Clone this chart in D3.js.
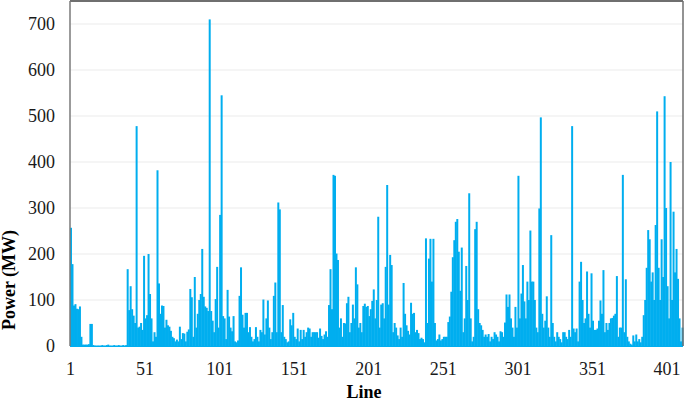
<!DOCTYPE html>
<html><head><meta charset="utf-8">
<script src="https://cdn.jsdelivr.net/npm/d3@7"></script>
<style>body{margin:0;background:#fff}svg{display:block}</style>
</head><body><svg id="c" width="685" height="401"></svg>
<script>
const power = [
257,178,88,91,81,80,86,20,3,3,
3,3,4,48,48,2,1,1,1,1,
1,2,1,1,2,3,1,1,1,2,
1,1,2,1,1,2,1,2,167,78,
130,80,66,50,478,40,42,50,35,196,
60,67,200,113,60,10,30,20,382,136,
70,88,87,40,57,45,42,33,20,17,
10,14,10,42,15,28,27,10,31,36,
124,106,20,150,40,70,100,113,211,107,
86,83,76,710,76,55,30,102,172,40,
285,545,65,60,15,122,64,40,32,65,
10,8,12,109,171,68,40,72,72,30,
41,20,10,15,41,20,10,35,30,101,
25,60,99,40,15,30,109,138,30,312,
297,30,89,20,15,8,10,58,45,72,
20,15,38,10,35,15,35,20,30,40,
38,20,30,30,30,30,18,38,22,15,
25,32,20,89,167,80,372,370,201,187,
40,60,20,50,49,93,107,30,50,90,
60,171,134,40,50,30,87,92,85,87,
65,80,98,123,60,100,281,40,90,93,
60,172,350,90,198,176,30,50,40,23,
15,40,20,137,70,45,33,25,94,70,
72,30,35,28,15,18,15,8,234,50,
190,233,140,233,50,12,15,25,12,15,
20,20,20,52,64,118,193,230,270,276,
205,120,214,30,60,174,100,332,60,10,
20,254,270,80,50,45,35,20,25,20,
26,10,20,15,30,25,20,10,32,30,
20,51,112,85,112,60,40,20,85,40,
370,60,114,176,97,60,140,100,251,140,
140,100,40,30,299,497,70,40,55,108,
40,20,241,50,20,10,30,20,15,8,
30,30,20,15,35,20,478,38,30,38,
10,140,183,100,50,60,162,70,40,158,
55,35,35,38,55,99,70,165,30,50,
35,50,60,61,66,70,152,20,40,40,
372,30,145,20,10,5,3,23,10,25,
10,15,8,20,67,100,170,252,232,140,
160,100,263,510,170,100,232,150,543,300,
130,60,400,100,292,160,211,146,60,10,40
];
const lines = d3.range(1, power.length + 1);
const xTickValues = [1, 51, 101, 151, 201, 251, 301, 351, 401];
const yTickValues = [0, 100, 200, 300, 400, 500, 600, 700];
const xTitle = "Line";
const yTitle = "Power (MW)";

(function () {
const svg = d3.select("#c");
const pL = 70, pR = 683, pT = 1, pB = 346;
const x = d3.scaleLinear().domain([1, power.length + 1]).range([pL, pR]);
const y = d3.scaleLinear().domain([0, 750]).range([pB, pT]);
const font = "'Liberation Serif','Times New Roman',serif";

svg.append("g").selectAll("line").data(yTickValues.slice(1)).join("line")
  .attr("x1", pL).attr("x2", pR)
  .attr("y1", d => y(d)).attr("y2", d => y(d))
  .attr("stroke", "#ebebeb").attr("stroke-width", 1);

const bw = x(2) - x(1);
svg.append("g").selectAll("rect").data(lines).join("rect")
  .attr("x", d => x(d))
  .attr("width", bw + 0.5)
  .attr("y", d => y(power[d - 1]))
  .attr("height", d => y(0) - y(power[d - 1]))
  .attr("fill", "#00AEEF");

svg.append("line").attr("x1", pL).attr("x2", pR).attr("y1", pT).attr("y2", pT)
  .attr("stroke", "#6f6f6f").attr("stroke-width", 2);
svg.append("line").attr("x1", pR).attr("x2", pR).attr("y1", pT).attr("y2", pB)
  .attr("stroke", "#6f6f6f").attr("stroke-width", 1.5);
svg.append("line").attr("x1", pL).attr("x2", pL).attr("y1", pT).attr("y2", pB)
  .attr("stroke", "#7a7a7a").attr("stroke-width", 1.5);
svg.append("line").attr("x1", pL).attr("x2", pR).attr("y1", pB + 0.5).attr("y2", pB + 0.5)
  .attr("stroke", "#00AEEF").attr("stroke-width", 1);

const ya = svg.append("g").attr("transform", `translate(${pL},0)`)
  .call(d3.axisLeft(y).tickValues(yTickValues).tickSize(0).tickPadding(15));
ya.select(".domain").remove();
ya.style("font-family", font).style("font-size", "18px");
ya.selectAll("text").style("font-family", font).style("font-size", "18px").attr("fill", "#1a1a1a");

const xa = svg.append("g").attr("transform", `translate(0,${pB})`)
  .call(d3.axisBottom(x).tickValues(xTickValues).tickFormat(d3.format("d")).tickSize(0).tickPadding(16));
xa.select(".domain").remove();
xa.style("font-family", font).style("font-size", "18px");
xa.selectAll("text").style("font-family", font).style("font-size", "18px").attr("fill", "#1a1a1a");

svg.append("text").attr("x", 364).attr("y", 398).attr("text-anchor", "middle")
  .style("font-family", font).style("font-size", "18px").attr("font-weight", "bold").text(xTitle);
svg.append("text").attr("transform", "translate(15,280) rotate(-90)").attr("text-anchor", "middle")
  .style("font-family", font).style("font-size", "18px").attr("font-weight", "bold").text(yTitle);
})();
</script></body></html>
